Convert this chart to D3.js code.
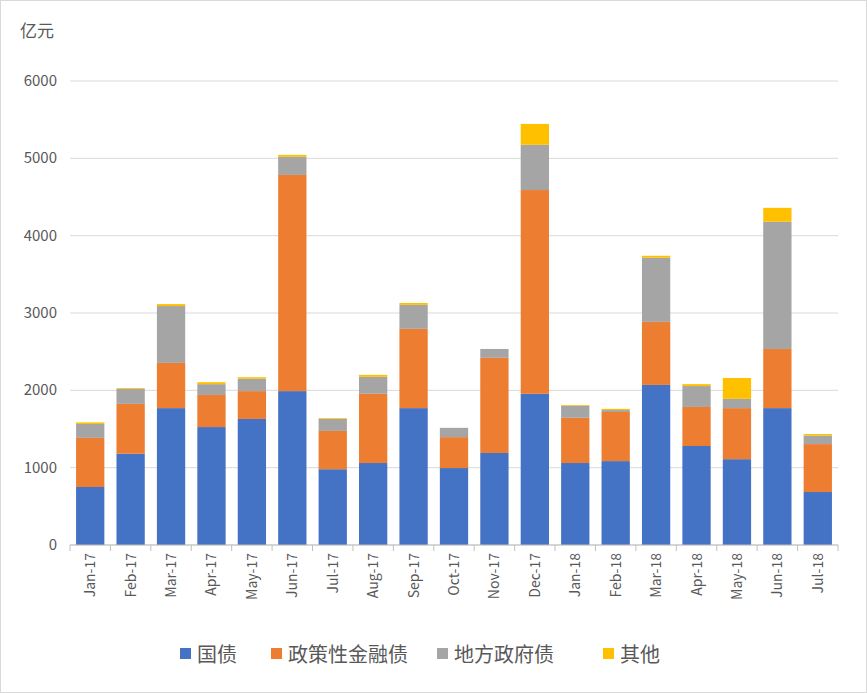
<!DOCTYPE html>
<html><head><meta charset="utf-8">
<script src="https://cdn.jsdelivr.net/npm/d3@7"></script>
<style>body{margin:0;background:#fff;font-family:"Noto Sans CJK SC","Noto Sans",sans-serif}</style>
</head><body>
<svg id="c" width="867" height="693"></svg>
<script>
const categories=["Jan-17","Feb-17","Mar-17","Apr-17","May-17","Jun-17","Jul-17","Aug-17","Sep-17","Oct-17","Nov-17","Dec-17","Jan-18","Feb-18","Mar-18","Apr-18","May-18","Jun-18","Jul-18"];
const seriesNames=["国债","政策性金融债","地方政府债","其他"];
const guozhai=[750,1180,1770,1525,1630,1990,980,1060,1770,995,1190,1955,1060,1085,2070,1280,1110,1770,685];
const zhengce=[635,645,585,415,360,2795,495,895,1025,400,1230,2635,585,635,815,505,660,765,620];
const difang=[180,195,735,140,160,235,155,220,310,120,115,585,155,25,830,270,120,1645,110];
const qita=[20,10,25,25,20,25,10,25,25,0,0,270,10,15,25,25,270,180,20];
const yTicks=[0,1000,2000,3000,4000,5000,6000];
const colors=["#4472C4","#ED7D31","#A5A5A5","#FFC000"];

const svg=d3.select("#c");
svg.append("rect").attr("x",0.5).attr("y",0.5).attr("width",866).attr("height",692).attr("fill","#fff").attr("stroke","#d9d9d9");
const L=70,R=838,T=81,B=545;
const x=d3.scaleBand().domain(categories).range([L,R]).paddingInner(0.3).paddingOuter(0.15);
const y=d3.scaleLinear().domain([0,6000]).range([B,T]);
const g=svg.append("g");
g.selectAll("line.grid").data(yTicks).join("line").attr("x1",L).attr("x2",R)
 .attr("y1",d=>y(d)).attr("y2",d=>y(d)).attr("stroke","#d9d9d9");
g.selectAll("text.yt").data(yTicks).join("text").attr("x",57).attr("y",d=>y(d)+5)
 .attr("text-anchor","end").attr("font-size",15).attr("fill","#595959").text(d=>d);
svg.append("text").attr("x",20).attr("y",37).attr("font-size",17).attr("fill","#595959").text("亿元");
const data=categories.map((c,i)=>({c,s0:guozhai[i],s1:zhengce[i],s2:difang[i],s3:qita[i]}));
const stack=d3.stack().keys(["s0","s1","s2","s3"])(data);
stack.forEach((s,k)=>{
 svg.append("g").attr("fill",colors[k]).selectAll("rect").data(s).join("rect")
  .attr("x",d=>x(d.data.c)).attr("width",x.bandwidth())
  .attr("y",d=>y(d[1])).attr("height",d=>y(d[0])-y(d[1]));
});
svg.append("line").attr("x1",L).attr("x2",R).attr("y1",B).attr("y2",B).attr("stroke","#bfbfbf");
const step=x.step();
categories.forEach((c,i)=>{
 const xx=x(c)-x.padding()*0; 
});
svg.selectAll("line.tk").data(d3.range(categories.length+1)).join("line")
 .attr("x1",i=>L+i*(R-L)/categories.length).attr("x2",i=>L+i*(R-L)/categories.length)
 .attr("y1",B).attr("y2",B+6).attr("stroke","#bfbfbf");
svg.selectAll("text.xl").data(categories).join("text")
 .attr("transform",d=>`translate(${x(d)+x.bandwidth()/2+5},553) rotate(-90)`)
 .attr("text-anchor","end").attr("font-size",14).attr("fill","#595959").text(d=>d);
const lg=svg.append("g");
const lx=[180,271,437,603];
seriesNames.forEach((n,i)=>{
 lg.append("rect").attr("x",lx[i]).attr("y",648).attr("width",11).attr("height",11).attr("fill",colors[i]);
 lg.append("text").attr("x",lx[i]+17).attr("y",662).attr("font-size",20).attr("fill","#595959").text(n);
});
</script></body></html>
